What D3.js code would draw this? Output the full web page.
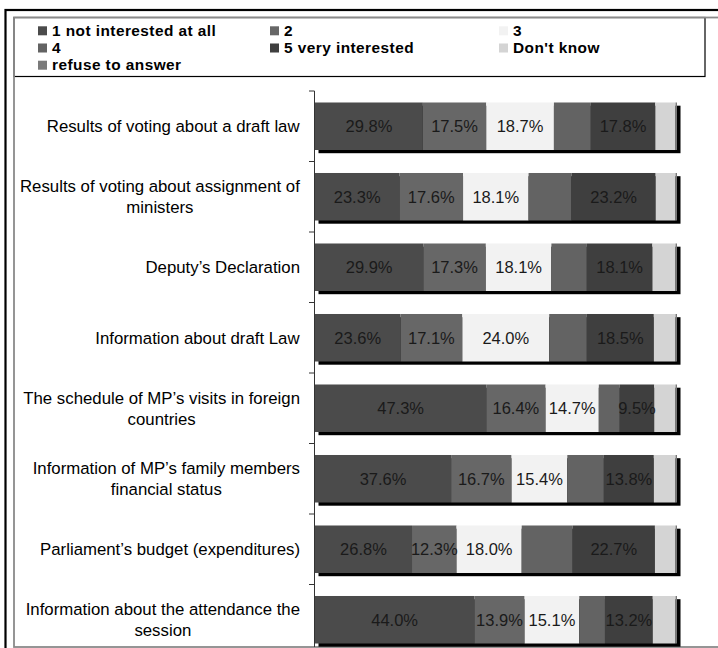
<!DOCTYPE html>
<html>
<head>
<meta charset="utf-8">
<script src="https://cdn.jsdelivr.net/npm/d3@7/dist/d3.min.js"></script>
<style>
  html, body { margin: 0; padding: 0; background: #fff; }
  svg { display: block; font-family: "Liberation Sans", Arial, sans-serif; }
</style>
</head>
<body>
<svg id="chart" width="718" height="648"></svg>
<script>
// Topics asked about (line breaks mark where the axis label wraps)
const categories = [
  "Results of voting about a draft law",
  "Results of voting about assignment of\nministers",
  "Deputy’s Declaration",
  "Information about draft Law",
  "The schedule of MP’s visits in foreign\ncountries",
  "Information of MP’s family members\nfinancial status",
  "Parliament’s budget (expenditures)",
  "Information about the attendance the\nsession"
];

// Answer scale (legend order)
const seriesNames = ["1 not interested at all", "2", "3", "4", "5 very interested", "Don't know", "refuse to answer"];

// Share of respondents per answer, in %
const notInterested  = [29.8, 23.3, 29.9, 23.6, 47.3, 37.6, 26.8, 44.0];
const score2         = [17.5, 17.6, 17.3, 17.1, 16.4, 16.7, 12.3, 13.9];
const score3         = [18.7, 18.1, 18.1, 24.0, 14.7, 15.4, 18.0, 15.1];
const score4         = [10.2, 11.9,  9.8, 10.4,  5.8, 10.1, 14.1,  7.1];
const veryInterested = [17.8, 23.2, 18.1, 18.5,  9.5, 13.8, 22.7, 13.2];
const dontKnow       = [ 5.6,  5.5,  6.4,  6.0,  5.9,  6.0,  5.7,  6.3];
const refused        = [ 0.4,  0.4,  0.4,  0.4,  0.4,  0.4,  0.4,  0.4];

const seriesValues = [notInterested, score2, score3, score4, veryInterested, dontKnow, refused];
const seriesColors = ["#4b4b4b", "#676767", "#f2f2f2", "#636363", "#3f3f3f", "#d4d4d4", "#7a7a7a"];
const labelledSeries = [0, 1, 2, 4];

const svg = d3.select("#chart");

// Outer frame (black)
svg.append("rect").attr("x", 5.5).attr("y", 10).attr("width", 740).attr("height", 680)
  .attr("fill", "none").attr("stroke", "#000").attr("stroke-width", 2.2);

// Legend box
svg.append("rect").attr("x", 14).attr("y", 17.5).attr("width", 691).attr("height", 59)
  .attr("fill", "#fff").attr("stroke", "#000").attr("stroke-width", 1.2);

// Chart-area frame (grey)
svg.append("rect").attr("x", 14).attr("y", 17.5).attr("width", 740).attr("height", 629.5)
  .attr("fill", "none").attr("stroke", "#8a8a8a").attr("stroke-width", 1.8);

// Legend entries, three per row
const legendColX = [38, 270, 499];
const legendRowY = [35.8, 53, 70.2];
const legend = svg.append("g").attr("font-weight", "bold").attr("font-size", "15.4px")
  .attr("letter-spacing", "0.45px");
seriesNames.forEach((name, i) => {
  const cx = legendColX[i % 3], cy = legendRowY[Math.floor(i / 3)];
  legend.append("rect").attr("x", cx).attr("y", cy - 9.5).attr("width", 9).attr("height", 9)
    .attr("fill", seriesColors[i]);
  legend.append("text").attr("x", cx + 14).attr("y", cy).attr("fill", "#000").text(name);
});

// Scales
const x = d3.scaleLinear().domain([0, 100]).range([315, 677]);
const y = d3.scaleBand().domain(categories).range([91, 655]).paddingInner(0.326).paddingOuter(0.163);

// Stack the answers per topic
const rows = categories.map((c, i) => {
  const r = { cat: c };
  seriesNames.forEach((s, j) => { r[s] = seriesValues[j][i]; });
  return r;
});
const stacked = d3.stack().keys(seriesNames)(rows);

const plot = svg.append("g");

// Drop shadow behind each bar
plot.selectAll("rect.shadow").data(rows).join("rect")
  .attr("class", "shadow")
  .attr("x", d => x(0) + 3.5)
  .attr("y", d => y(d.cat) + 3.2)
  .attr("width", d => x(d3.sum(seriesNames, s => d[s])) - x(0))
  .attr("height", y.bandwidth())
  .attr("fill", "#000");

// Segments
stacked.forEach((layer, j) => {
  plot.append("g").selectAll("rect").data(layer).join("rect")
    .attr("x", d => x(d[0]))
    .attr("y", d => y(d.data.cat))
    .attr("width", d => x(d[1]) - x(d[0]))
    .attr("height", y.bandwidth())
    .attr("fill", seriesColors[j]);
});

// Value labels on the answered scale points
labelledSeries.forEach(j => {
  plot.append("g").selectAll("text").data(stacked[j]).join("text")
    .attr("x", d => (x(d[0]) + x(d[1])) / 2)
    .attr("y", d => y(d.data.cat) + y.bandwidth() / 2)
    .attr("dy", "0.35em")
    .attr("text-anchor", "middle")
    .attr("font-size", "16.5px")
    .attr("fill", "#1a1a1a")
    .text(d => (d[1] - d[0]).toFixed(1) + "%");
});

// Category axis: line with ticks between the categories
const axisX = 314.5;
const step = y.step();
const boundaries = categories.map(c => y(c) - y.paddingInner() * step / 2);
const axis = svg.append("g").attr("stroke", "#333").attr("stroke-width", 1);
axis.append("line").attr("x1", axisX).attr("x2", axisX).attr("y1", boundaries[0]).attr("y2", 647);
axis.selectAll("line.tick").data(boundaries).join("line")
  .attr("class", "tick")
  .attr("x1", axisX - 5.5).attr("x2", axisX)
  .attr("y1", d => d).attr("y2", d => d);

// Category labels, wrapped lines centred on each other, block right-aligned
const labelRight = 300;
const lineH = 21;
categories.forEach(c => {
  const lines = c.split("\n");
  const cy = y(c) + y.bandwidth() / 2;
  const t = svg.append("text").attr("font-size", "16.8px").attr("fill", "#000")
    .attr("text-anchor", "middle");
  lines.forEach((ln, k) => {
    t.append("tspan").attr("x", 0)
      .attr("y", cy + (k - (lines.length - 1) / 2) * lineH)
      .attr("dy", "0.35em")
      .text(ln);
  });
  const w = t.node().getBBox().width;
  t.attr("transform", `translate(${labelRight - w / 2},0)`);
});
</script>
</body>
</html>
